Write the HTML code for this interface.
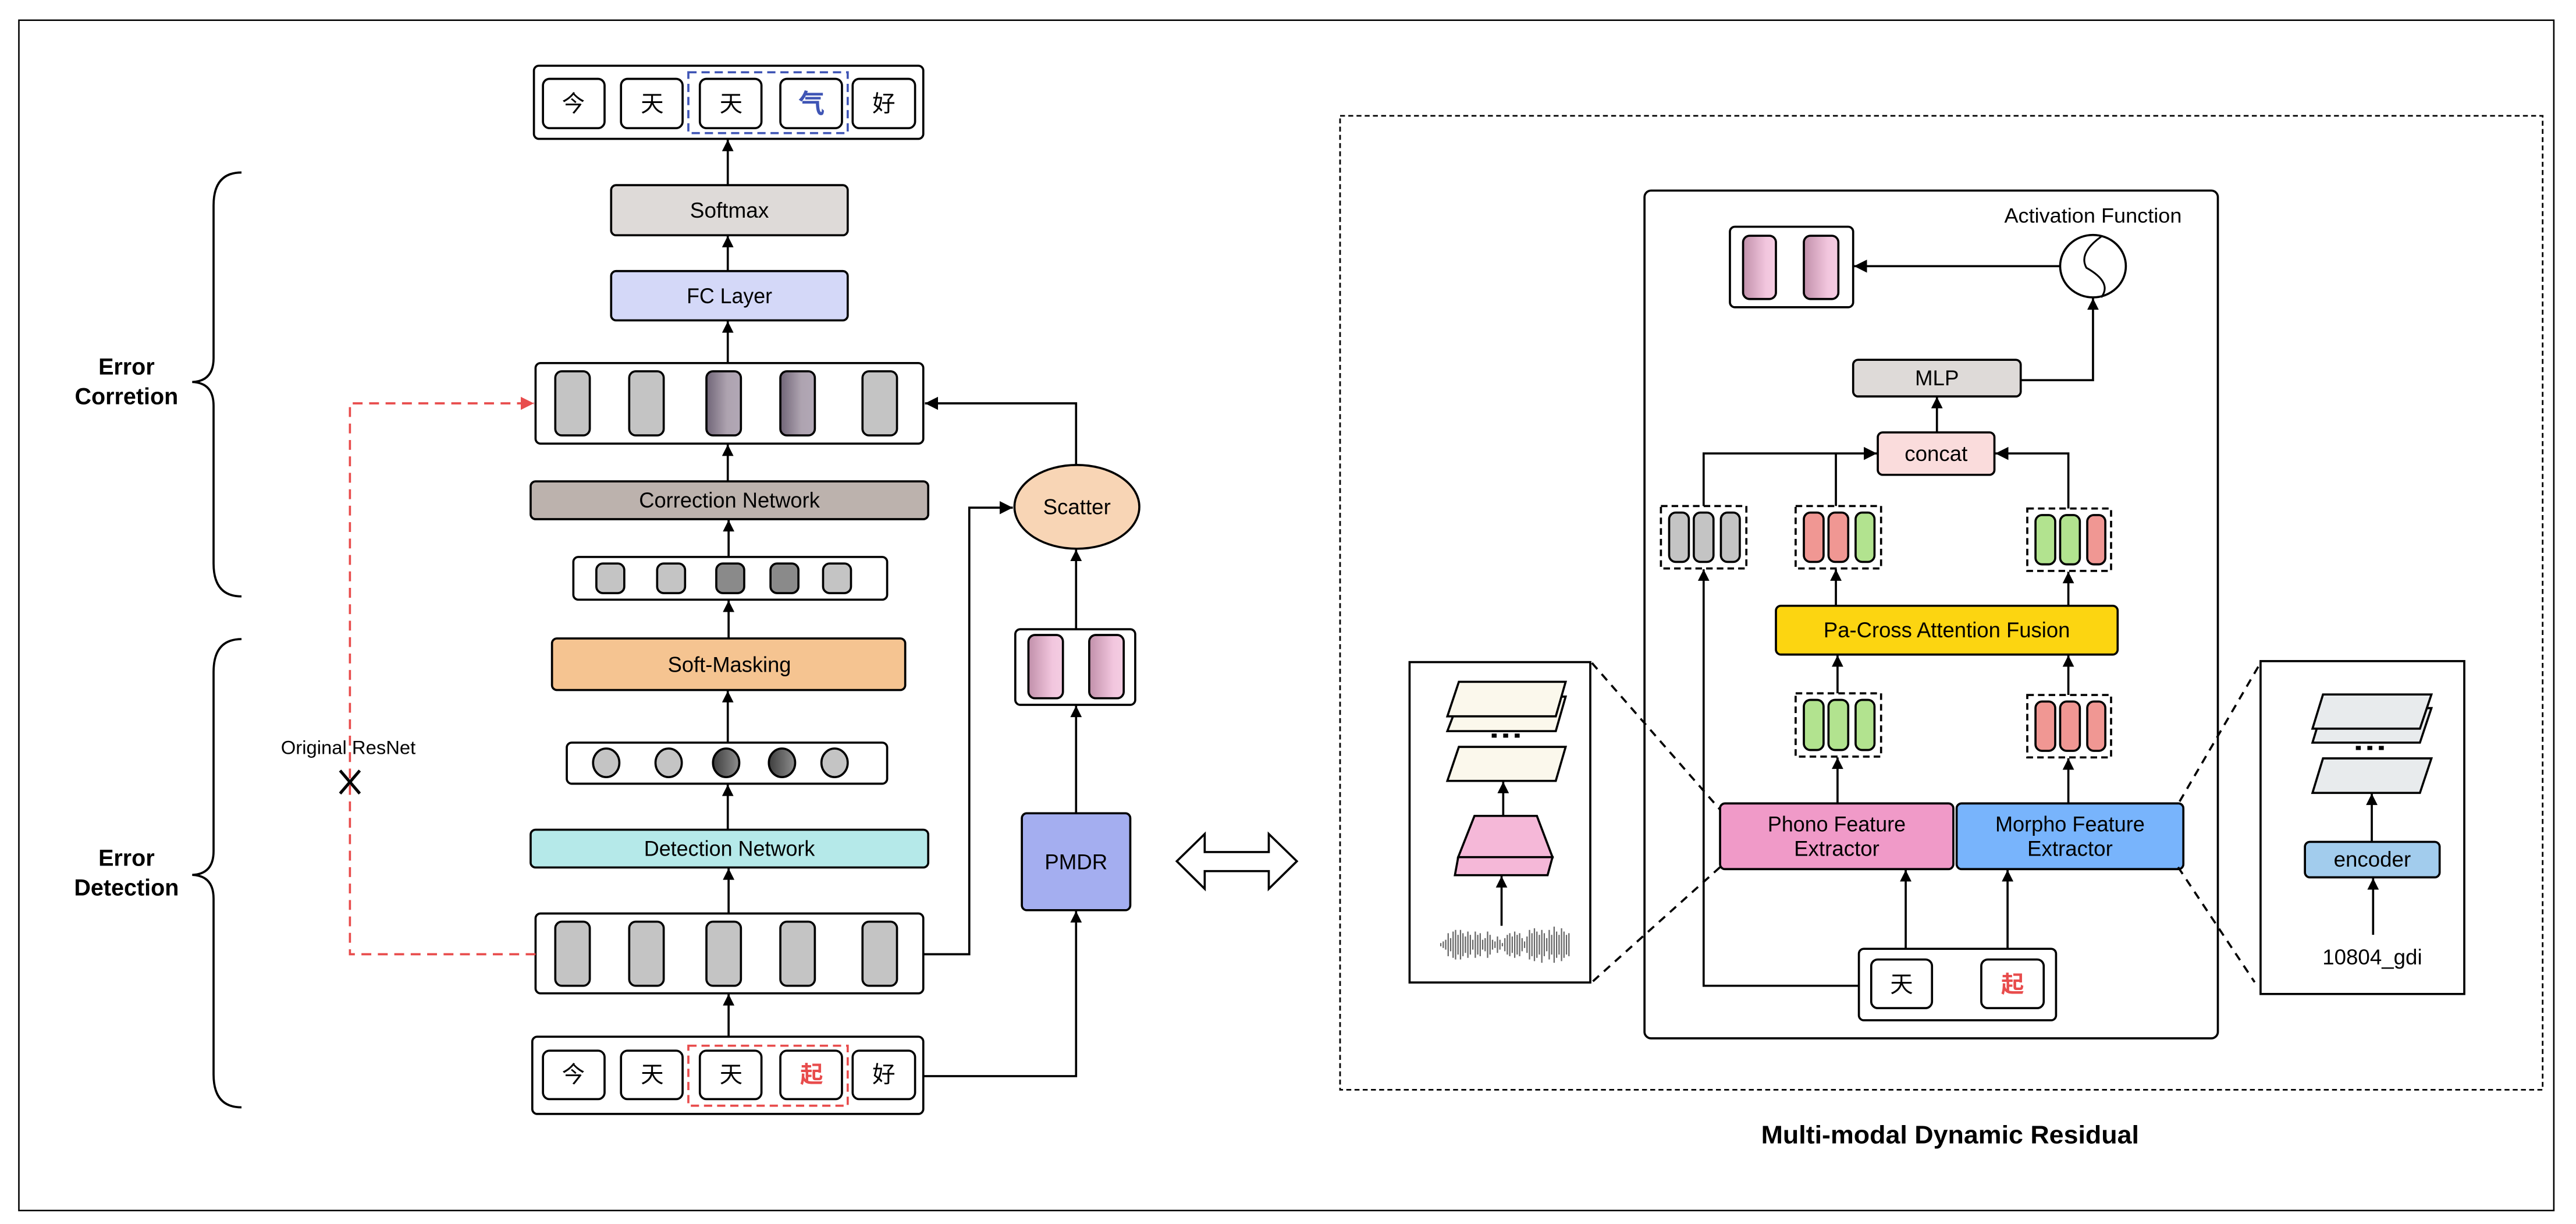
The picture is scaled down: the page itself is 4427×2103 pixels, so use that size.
<!DOCTYPE html>
<html><head><meta charset="utf-8">
<style>
html,body{margin:0;padding:0;background:#fff;}
svg{display:block;}
text{font-family:"Liberation Sans Narrow","Liberation Sans","Noto Sans CJK SC",sans-serif;}
.cjk{font-family:"Noto Sans CJK SC","WenQuanYi Zen Hei",sans-serif;}
</style></head>
<body>
<svg width="4427" height="2103" viewBox="0 0 1568 745" preserveAspectRatio="none" xmlns="http://www.w3.org/2000/svg">
<defs>
<marker id="ah" viewBox="0 0 10 10" refX="10" refY="5" markerWidth="8" markerHeight="7" markerUnits="userSpaceOnUse" orient="auto"><path d="M0,0 L10,5 L0,10 z" fill="#000"/></marker>
<marker id="ah2" viewBox="0 0 10 10" refX="10" refY="5" markerWidth="8" markerHeight="8" markerUnits="userSpaceOnUse" orient="auto"><path d="M0,0 L10,5 L0,10 z" fill="#000"/></marker>
<marker id="ahr" viewBox="0 0 10 10" refX="10" refY="5" markerWidth="8" markerHeight="8" markerUnits="userSpaceOnUse" orient="auto"><path d="M0,0 L10,5 L0,10 z" fill="#e84c4c"/></marker>
<linearGradient id="gdark" x1="0" y1="0" x2="1" y2="0"><stop offset="0" stop-color="#706577"/><stop offset="0.6" stop-color="#aea3b0"/><stop offset="1" stop-color="#b2a8b6"/></linearGradient>
<linearGradient id="gcirc" x1="0" y1="0" x2="1" y2="0"><stop offset="0" stop-color="#3e3e3e"/><stop offset="1" stop-color="#8e8e8e"/></linearGradient>
<linearGradient id="gpink" x1="0" y1="0" x2="1" y2="0"><stop offset="0" stop-color="#c190aa"/><stop offset="0.7" stop-color="#f2c6de"/><stop offset="1" stop-color="#f4cde2"/></linearGradient>
</defs>
<g stroke="#000" stroke-width="1.3" fill="none">
<rect x="11.5" y="12.3" width="1543" height="724.5" stroke-width="0.9"/>

<rect x="325" y="40" width="237" height="44.5" rx="3" fill="#fff"/>
<rect x="330.5" y="48" width="37.5" height="30" rx="4" fill="#fff"/>
<rect x="378" y="48" width="37.5" height="30" rx="4" fill="#fff"/>
<rect x="426" y="48" width="37.5" height="30" rx="4" fill="#fff"/>
<rect x="475" y="48" width="37.5" height="30" rx="4" fill="#fff"/>
<rect x="519" y="48" width="38" height="30" rx="4" fill="#fff"/>
<rect x="419" y="44" width="97" height="37" stroke="#3f55b5" stroke-dasharray="5,3"/>
<line x1="443" y1="112.5" x2="443" y2="85" marker-end="url(#ah)"/>
<rect x="372" y="112.7" width="144" height="30.5" rx="3" fill="#dedad8"/>
<line x1="443" y1="165" x2="443" y2="143.5" marker-end="url(#ah)"/>
<rect x="372" y="165" width="144" height="30" rx="3" fill="#d4d8f8"/>
<line x1="443" y1="221" x2="443" y2="195.5" marker-end="url(#ah)"/>
<rect x="326" y="221" width="236" height="49" rx="3" fill="#fff"/>
<rect x="338" y="226" width="21" height="39" rx="4" fill="#c4c4c4"/>
<rect x="383" y="226" width="21" height="39" rx="4" fill="#c4c4c4"/>
<rect x="430" y="226" width="21" height="39" rx="4" fill="url(#gdark)"/>
<rect x="475" y="226" width="21" height="39" rx="4" fill="url(#gdark)"/>
<rect x="525" y="226" width="21" height="39" rx="4" fill="#c4c4c4"/>
<line x1="443" y1="293" x2="443" y2="270.5" marker-end="url(#ah)"/>
<rect x="323" y="293" width="242" height="23" rx="3" fill="#bcb2ad"/>
<line x1="443.5" y1="339" x2="443.5" y2="316.5" marker-end="url(#ah)"/>
<rect x="349" y="339" width="191" height="26" rx="3" fill="#fff"/>
<rect x="363" y="343" width="17" height="18" rx="4" fill="#c4c4c4"/>
<rect x="400" y="343" width="17" height="18" rx="4" fill="#c4c4c4"/>
<rect x="436" y="343" width="17" height="18" rx="4" fill="#8a8a8a"/>
<rect x="469" y="343" width="17" height="18" rx="4" fill="#8a8a8a"/>
<rect x="501" y="343" width="17" height="18" rx="4" fill="#c4c4c4"/>
<line x1="443.5" y1="388.6" x2="443.5" y2="365.5" marker-end="url(#ah)"/>
<rect x="336" y="388.6" width="215" height="31.4" rx="3" fill="#f5c491"/>
<line x1="443" y1="452" x2="443" y2="420.5" marker-end="url(#ah)"/>
<rect x="345" y="452" width="195" height="25" rx="3" fill="#fff"/>
<ellipse cx="369" cy="464.3" rx="8" ry="8.7" fill="#c4c4c4"/>
<ellipse cx="407" cy="464.3" rx="8" ry="8.7" fill="#c4c4c4"/>
<ellipse cx="442" cy="464.3" rx="8" ry="8.7" fill="url(#gcirc)"/>
<ellipse cx="476" cy="464.3" rx="8" ry="8.7" fill="url(#gcirc)"/>
<ellipse cx="508" cy="464.3" rx="8" ry="8.7" fill="#c4c4c4"/>
<line x1="443" y1="505" x2="443" y2="477.5" marker-end="url(#ah)"/>
<rect x="323" y="505" width="242" height="23" rx="3" fill="#b5e9e9"/>
<line x1="443.5" y1="556" x2="443.5" y2="528.5" marker-end="url(#ah)"/>
<rect x="326" y="556" width="236" height="48.6" rx="3" fill="#fff"/>
<rect x="338" y="561" width="21" height="39" rx="4" fill="#c4c4c4"/>
<rect x="383" y="561" width="21" height="39" rx="4" fill="#c4c4c4"/>
<rect x="430" y="561" width="21" height="39" rx="4" fill="#c4c4c4"/>
<rect x="475" y="561" width="21" height="39" rx="4" fill="#c4c4c4"/>
<rect x="525" y="561" width="21" height="39" rx="4" fill="#c4c4c4"/>
<line x1="443.5" y1="631" x2="443.5" y2="605" marker-end="url(#ah)"/>
<rect x="324" y="631" width="238" height="47" rx="3" fill="#fff"/>
<rect x="330.5" y="639.5" width="37.5" height="29.5" rx="4" fill="#fff"/>
<rect x="378" y="639.5" width="37.5" height="29.5" rx="4" fill="#fff"/>
<rect x="426" y="639.5" width="37.5" height="29.5" rx="4" fill="#fff"/>
<rect x="475" y="639.5" width="37.5" height="29.5" rx="4" fill="#fff"/>
<rect x="519" y="639.5" width="38" height="29.5" rx="4" fill="#fff"/>
<rect x="419" y="636.5" width="97" height="36.5" stroke="#e84c4c" stroke-dasharray="5,3"/>

<polyline points="326,580.8 213,580.8 213,245.5 325,245.5" stroke="#e84c4c" stroke-dasharray="6,4" marker-end="url(#ahr)"/>
<line x1="207" y1="469" x2="219" y2="483" stroke-width="1.8"/>
<line x1="219" y1="469" x2="207" y2="483" stroke-width="1.8"/>

<polyline points="562,580.8 590,580.8 590,309 616.5,309" marker-end="url(#ah2)"/>
<ellipse cx="655.5" cy="308.5" rx="38" ry="25.5" fill="#f8d5b5"/>
<polyline points="655,283 655,245.5 563,245.5" marker-end="url(#ah2)"/>
<line x1="655" y1="383" x2="655" y2="334.5" marker-end="url(#ah)"/>
<rect x="618" y="383" width="73" height="46" rx="3" fill="#fff"/>
<rect x="626" y="386.5" width="21" height="38.5" rx="4" fill="url(#gpink)"/>
<rect x="663" y="386.5" width="21" height="38.5" rx="4" fill="url(#gpink)"/>
<line x1="655" y1="495" x2="655" y2="429.5" marker-end="url(#ah)"/>
<rect x="622" y="495" width="66" height="59" rx="3" fill="#a4aef0"/>
<polyline points="562,655 655,655 655,554.5" marker-end="url(#ah)"/>

<path d="M147,105 Q130,105 130,125 L130,218 Q130,232 117,232.5 Q130,233 130,247 L130,343 Q130,363 147,363"/>
<path d="M147,389 Q130,389 130,409 L130,518 Q130,532 117,532.5 Q130,533 130,547 L130,654 Q130,674 147,674"/>

<path d="M716.3,524.2 L733.3,507.6 L733.3,518.6 L772.3,518.6 L772.3,507.6 L789.4,524.2 L772.3,541 L772.3,530.2 L733.3,530.2 L733.3,541 Z" fill="#fff"/>

<rect x="815.7" y="70.5" width="732" height="592.8" stroke-width="1" stroke-dasharray="3,2"/>
<rect x="1001" y="116" width="349" height="516" rx="4"/>
<rect x="1053" y="138" width="75" height="49" rx="3" fill="#fff"/>
<rect x="1061" y="143.5" width="20" height="38.5" rx="4" fill="url(#gpink)"/>
<rect x="1098" y="143.5" width="21" height="38.5" rx="4" fill="url(#gpink)"/>
<ellipse cx="1274" cy="162" rx="20" ry="19" fill="#fff"/>
<path d="M1279,144 Q1265,154 1270,163 Q1286,172 1279,181" stroke-width="1.1"/>
<line x1="1254" y1="162" x2="1128.5" y2="162" marker-end="url(#ah2)"/>
<polyline points="1230,231.4 1274,231.4 1274,181.5" marker-end="url(#ah)"/>
<rect x="1128" y="219" width="102" height="22.3" rx="3" fill="#dedad8"/>
<line x1="1179" y1="263" x2="1179" y2="241.5" marker-end="url(#ah)"/>
<rect x="1143" y="263.2" width="71" height="25.8" rx="3" fill="#fadcdc"/>
<polyline points="1037,308 1037,276 1142.5,276" marker-end="url(#ah2)"/>
<line x1="1117.5" y1="308" x2="1117.5" y2="276"/>
<polyline points="1259,309.5 1259,276 1214.5,276" marker-end="url(#ah2)"/>
<rect x="1011" y="308" width="52" height="38" stroke-dasharray="4,2.5"/>
<rect x="1016" y="312" width="12" height="30" rx="4" fill="#c4c4c4"/>
<rect x="1031" y="312" width="12" height="30" rx="4" fill="#c4c4c4"/>
<rect x="1047.5" y="312" width="11.5" height="30" rx="4" fill="#c4c4c4"/>
<rect x="1093" y="308" width="52" height="38" stroke-dasharray="4,2.5"/>
<rect x="1098" y="312" width="12" height="30" rx="4" fill="#f09793"/>
<rect x="1113" y="312" width="12" height="30" rx="4" fill="#f09793"/>
<rect x="1129.5" y="312" width="11.5" height="30" rx="4" fill="#b2e38f"/>
<rect x="1234" y="309.5" width="51" height="38" stroke-dasharray="4,2.5"/>
<rect x="1239" y="313.5" width="12" height="30" rx="4" fill="#b2e38f"/>
<rect x="1254" y="313.5" width="12" height="30" rx="4" fill="#b2e38f"/>
<rect x="1270.5" y="313.5" width="11" height="30" rx="4" fill="#f09793"/>
<line x1="1117.5" y1="368.5" x2="1117.5" y2="346.5" marker-end="url(#ah)"/>
<line x1="1259" y1="368.5" x2="1259" y2="348" marker-end="url(#ah)"/>
<rect x="1081" y="368.7" width="208" height="29.7" rx="3" fill="#fcd511"/>
<line x1="1118.5" y1="422" x2="1118.5" y2="398.8" marker-end="url(#ah)"/>
<line x1="1259" y1="423" x2="1259" y2="398.8" marker-end="url(#ah)"/>
<rect x="1093" y="422" width="52" height="38.5" stroke-dasharray="4,2.5"/>
<rect x="1098" y="426" width="12" height="30.5" rx="4" fill="#b2e38f"/>
<rect x="1113" y="426" width="12" height="30.5" rx="4" fill="#b2e38f"/>
<rect x="1129.5" y="426" width="11.5" height="30.5" rx="4" fill="#b2e38f"/>
<rect x="1234" y="423" width="51" height="38" stroke-dasharray="4,2.5"/>
<rect x="1239" y="427" width="12" height="30" rx="4" fill="#f09793"/>
<rect x="1254" y="427" width="12" height="30" rx="4" fill="#f09793"/>
<rect x="1270.5" y="427" width="11" height="30" rx="4" fill="#f09793"/>
<line x1="1118.5" y1="489" x2="1118.5" y2="461" marker-end="url(#ah)"/>
<line x1="1259" y1="489" x2="1259" y2="461.5" marker-end="url(#ah)"/>
<rect x="1047" y="489" width="142" height="40" rx="3" fill="#f09ac8"/>
<rect x="1191" y="489" width="138" height="40" rx="3" fill="#78b4fc"/>
<line x1="1160" y1="577.5" x2="1160" y2="529.5" marker-end="url(#ah)"/>
<line x1="1222" y1="577.5" x2="1222" y2="529.5" marker-end="url(#ah)"/>
<rect x="1131.5" y="577.5" width="120" height="43.5" rx="3" fill="#fff"/>
<rect x="1139" y="584" width="37" height="29.6" rx="4" fill="#fff"/>
<rect x="1206" y="584" width="38" height="29.6" rx="4" fill="#fff"/>
<polyline points="1131.5,600 1037,600 1037,346.5" marker-end="url(#ah)"/>

<rect x="858" y="403" width="110" height="195"/>
<line x1="969" y1="403.5" x2="1047" y2="492.8" stroke-dasharray="5,4"/>
<line x1="1047" y1="527.8" x2="969" y2="597.8" stroke-dasharray="5,4"/>
<polygon points="889,424 953,424 947,445 881,445" fill="#fbf8ec"/>
<polygon points="888,415 953,415 947,436 881,436" fill="#fbf8ec"/>
<polygon points="888,454.6 953,454.6 947,475.3 881,475.3" fill="#fbf8ec"/>
<line x1="915" y1="496.6" x2="915" y2="475.8" marker-end="url(#ah)"/>
<polygon points="887.6,521.7 945,521.7 942,532.7 885.6,532.7" fill="#f5b8d8"/>
<polygon points="897.5,496.6 935.5,496.6 945,521.7 887.6,521.7" fill="#f5b8d8"/>
<line x1="914" y1="563.5" x2="914" y2="533.2" marker-end="url(#ah)"/>

<rect x="1376" y="402.4" width="124" height="202.6"/>
<line x1="1374.6" y1="405.8" x2="1325.8" y2="489.4" stroke-dasharray="5,4"/>
<line x1="1325.8" y1="527.8" x2="1372.4" y2="597.8" stroke-dasharray="5,4"/>
<polygon points="1414,431 1480,431 1473,452 1407.6,452" fill="#e8ebed"/>
<polygon points="1414,422.7 1480,422.7 1473,443.5 1407.6,443.5" fill="#e8ebed"/>
<polygon points="1414,461.6 1480,461.6 1473,482.6 1407.6,482.6" fill="#e8ebed"/>
<line x1="1443.7" y1="512.4" x2="1443.7" y2="483" marker-end="url(#ah)"/>
<rect x="1403" y="512.4" width="82" height="21.6" rx="3" fill="#a2cced"/>
<line x1="1444.5" y1="569" x2="1444.5" y2="534.5" marker-end="url(#ah)"/>
</g>

<g fill="#000">
<rect x="908" y="446.5" width="3" height="2.5"/><rect x="915" y="446.5" width="3" height="2.5"/><rect x="922" y="446.5" width="3" height="2.5"/>
<rect x="1434" y="454" width="3" height="2.5"/><rect x="1441" y="454" width="3" height="2.5"/><rect x="1448" y="454" width="3" height="2.5"/>
</g>

<g stroke="#666" stroke-width="0.8">
<line x1="877" y1="574" x2="877" y2="576"/><line x1="878.5" y1="573" x2="878.5" y2="577"/><line x1="880" y1="572" x2="880" y2="578"/><line x1="881.5" y1="568" x2="881.5" y2="582"/><line x1="883" y1="571" x2="883" y2="579"/><line x1="884.5" y1="567" x2="884.5" y2="583"/><line x1="886" y1="566" x2="886" y2="584"/><line x1="887.5" y1="569" x2="887.5" y2="581"/><line x1="889" y1="566" x2="889" y2="584"/><line x1="890.5" y1="568" x2="890.5" y2="582"/><line x1="892" y1="570" x2="892" y2="580"/><line x1="893.5" y1="567" x2="893.5" y2="583"/><line x1="895" y1="569" x2="895" y2="581"/><line x1="896.5" y1="572" x2="896.5" y2="578"/><line x1="898" y1="567" x2="898" y2="583"/><line x1="899.5" y1="569" x2="899.5" y2="581"/><line x1="901" y1="568" x2="901" y2="582"/><line x1="902.5" y1="572" x2="902.5" y2="578"/><line x1="904" y1="571" x2="904" y2="579"/><line x1="905.5" y1="567" x2="905.5" y2="583"/><line x1="907" y1="569" x2="907" y2="581"/><line x1="908.5" y1="572" x2="908.5" y2="578"/><line x1="910" y1="573" x2="910" y2="577"/><line x1="911.5" y1="570" x2="911.5" y2="580"/><line x1="913" y1="572" x2="913" y2="578"/><line x1="914.5" y1="574" x2="914.5" y2="576"/><line x1="916" y1="571" x2="916" y2="579"/><line x1="917.5" y1="569" x2="917.5" y2="581"/><line x1="919" y1="568" x2="919" y2="582"/><line x1="920.5" y1="570" x2="920.5" y2="580"/><line x1="922" y1="567" x2="922" y2="583"/><line x1="923.5" y1="569" x2="923.5" y2="581"/><line x1="925" y1="568" x2="925" y2="582"/><line x1="926.5" y1="571" x2="926.5" y2="579"/><line x1="928" y1="573" x2="928" y2="577"/><line x1="929.5" y1="570" x2="929.5" y2="580"/><line x1="931" y1="566" x2="931" y2="584"/><line x1="932.5" y1="568" x2="932.5" y2="582"/><line x1="934" y1="565" x2="934" y2="585"/><line x1="935.5" y1="567" x2="935.5" y2="583"/><line x1="937" y1="569" x2="937" y2="581"/><line x1="938.5" y1="566" x2="938.5" y2="586"/><line x1="940" y1="568" x2="940" y2="582"/><line x1="941.5" y1="571" x2="941.5" y2="579"/><line x1="943" y1="566" x2="943" y2="584"/><line x1="944.5" y1="569" x2="944.5" y2="581"/><line x1="946" y1="564" x2="946" y2="586"/><line x1="947.5" y1="567" x2="947.5" y2="583"/><line x1="949" y1="569" x2="949" y2="581"/><line x1="950.5" y1="565" x2="950.5" y2="585"/><line x1="952" y1="567" x2="952" y2="583"/><line x1="953.5" y1="569" x2="953.5" y2="581"/><line x1="955" y1="568" x2="955" y2="582"/>
</g>

<g font-size="14" text-anchor="middle" fill="#000">
<text class="cjk" x="349" y="68">今</text>
<text class="cjk" x="397" y="68">天</text>
<text class="cjk" x="445" y="68">天</text>
<text class="cjk" x="494" y="68.5" fill="#3f55b5" font-weight="bold" font-size="16">气</text>
<text class="cjk" x="538" y="68">好</text>
<text class="cjk" x="349" y="659">今</text>
<text class="cjk" x="397" y="659">天</text>
<text class="cjk" x="445" y="659">天</text>
<text class="cjk" x="494" y="659" fill="#e84c4c" font-weight="bold">起</text>
<text class="cjk" x="538" y="659">好</text>
<text class="cjk" x="1157.5" y="604">天</text>
<text class="cjk" x="1225" y="604" fill="#e84c4c" font-weight="bold">起</text>
</g>
<g font-size="13" text-anchor="middle" fill="#000">
<text x="444" y="132.5" textLength="48" lengthAdjust="spacingAndGlyphs">Softmax</text>
<text x="444" y="184.5" textLength="52" lengthAdjust="spacingAndGlyphs">FC Layer</text>
<text x="444" y="309" textLength="110" lengthAdjust="spacingAndGlyphs">Correction Network</text>
<text x="444" y="409" textLength="75" lengthAdjust="spacingAndGlyphs">Soft-Masking</text>
<text x="444" y="521" textLength="104" lengthAdjust="spacingAndGlyphs">Detection Network</text>
<text x="655.5" y="313">Scatter</text>
<text x="655" y="529">PMDR</text>
<text x="1179" y="234.5">MLP</text>
<text x="1178.5" y="280.5">concat</text>
<text x="1185" y="388" textLength="150" lengthAdjust="spacingAndGlyphs">Pa-Cross Attention Fusion</text>
<text x="1118" y="506" textLength="84" lengthAdjust="spacingAndGlyphs">Phono Feature</text>
<text x="1118" y="521">Extractor</text>
<text x="1260" y="506" textLength="91" lengthAdjust="spacingAndGlyphs">Morpho Feature</text>
<text x="1260" y="521">Extractor</text>
<text x="1444" y="527.5">encoder</text>
<text x="1444" y="587">10804_gdi</text>
<text x="1274" y="135.5" font-size="12.5" textLength="108" lengthAdjust="spacingAndGlyphs">Activation Function</text>
<text x="212" y="459" font-size="11.5" textLength="82" lengthAdjust="spacingAndGlyphs">Original ResNet</text>
</g>
<g font-size="14" font-weight="bold" text-anchor="middle" fill="#000">
<text x="77" y="228">Error</text>
<text x="77" y="246">Corretion</text>
<text x="77" y="527">Error</text>
<text x="77" y="545">Detection</text>
<text x="1187" y="696" font-size="15.5" textLength="230" lengthAdjust="spacingAndGlyphs">Multi-modal Dynamic Residual</text>
</g>
</svg>
</body></html>
